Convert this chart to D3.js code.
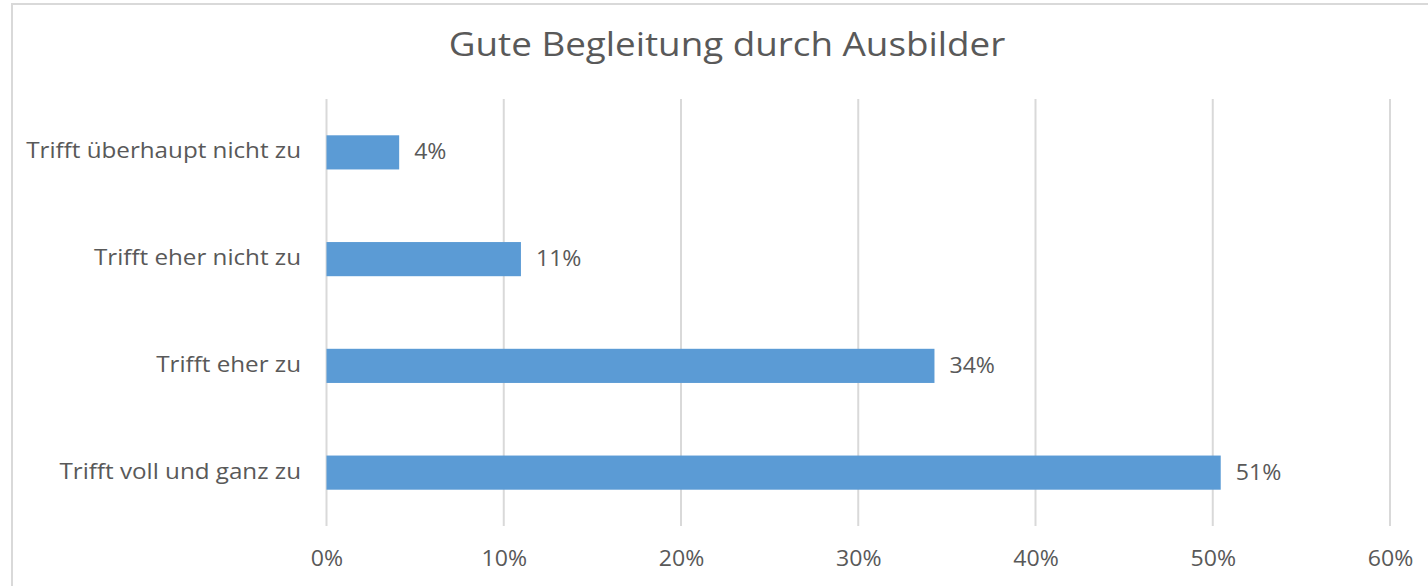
<!DOCTYPE html>
<html><head><meta charset="utf-8">
<script src="https://cdn.jsdelivr.net/npm/d3@7"></script>
<style>
html,body{margin:0;padding:0;background:#fff;}
svg{display:block;font-family:"Open Sans",sans-serif;}
</style></head>
<body>
<svg id="c" width="1428" height="586"></svg>
<script>
const title = "Gute Begleitung durch Ausbilder";
const categories = ["Trifft überhaupt nicht zu","Trifft eher nicht zu","Trifft eher zu","Trifft voll und ganz zu"];
const values = [0.041, 0.1097, 0.343, 0.5045];
const valueLabels = ["4%","11%","34%","51%"];
const ticks = [0,0.1,0.2,0.3,0.4,0.5,0.6];

const svg = d3.select("#c");
const textColor = "#595959";
const stretch = 1.1;
// frame
svg.append("rect").attr("x",12).attr("y",4).attr("width",1440).attr("height",620)
  .attr("fill","none").attr("stroke","#d9d9d9").attr("stroke-width",2);

svg.append("text").attr("transform","translate(727,56) scale(1.15,1)").attr("text-anchor","middle")
  .attr("font-size",32).attr("fill",textColor).text(title);

const x = d3.scaleLinear().domain([0,0.6]).range([326.5,1390]);
const y = d3.scaleBand().domain(categories).range([99,526]).paddingInner(0.68).paddingOuter(0.34);

// gridlines
svg.append("g").selectAll("line").data(ticks).join("line")
  .attr("x1",d=>x(d)).attr("x2",d=>x(d)).attr("y1",99).attr("y2",526)
  .attr("stroke","#d9d9d9").attr("stroke-width",2);

// x axis labels
const xAxis = d3.axisBottom(x).tickValues(ticks).tickFormat(d3.format(".0%")).tickSize(0).tickPadding(0);
const gx = svg.append("g").attr("transform","translate(0,566)").call(xAxis);
gx.select(".domain").remove();
gx.selectAll("text").attr("dy",0).attr("y",0).attr("font-size",21).attr("fill",textColor)
  .attr("font-family","Open Sans, sans-serif").attr("transform",`scale(${stretch},1)`);

// y axis labels
const yAxis = d3.axisLeft(y).tickSize(0).tickPadding(0);
const gy = svg.append("g").attr("transform","translate(301,0)").call(yAxis);
gy.select(".domain").remove();
gy.selectAll("text").attr("x",0).attr("dy","0.27em").attr("font-size",22).attr("fill",textColor)
  .attr("font-family","Open Sans, sans-serif").attr("transform",`scale(${stretch},1)`);

// bars
svg.append("g").selectAll("rect").data(values).join("rect")
  .attr("x",x(0)).attr("y",(d,i)=>y(categories[i]))
  .attr("width",d=>x(d)-x(0)).attr("height",y.bandwidth())
  .attr("fill","#5b9bd5");

// value labels
svg.append("g").selectAll("text").data(values).join("text")
  .attr("transform",(d,i)=>`translate(${x(d)+15},${y(categories[i])+y.bandwidth()/2}) scale(${stretch},1)`)
  .attr("dy","0.33em").attr("font-size",21).attr("fill",textColor)
  .text((d,i)=>valueLabels[i]);
</script>
</body></html>
